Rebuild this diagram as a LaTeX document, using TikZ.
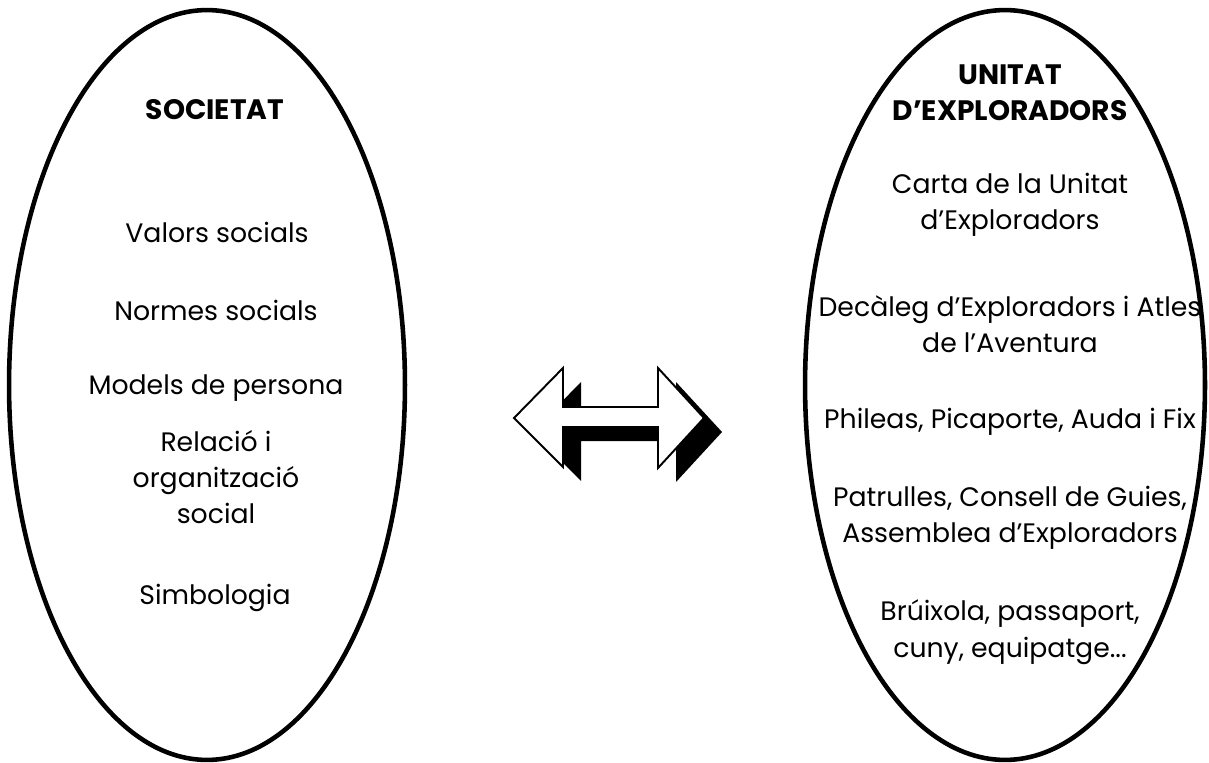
\documentclass[tikz,border=0pt]{standalone}
\usepackage{fontspec}
\setmainfont{Poppins}
\usetikzlibrary{shapes.geometric}
\usetikzlibrary{positioning}
\tikzset{
	bubble/.style={ellipse,draw=black,line width=2.6pt,inner sep=0pt},
	item/.style={align=center,font=\fontsize{15.2}{20.7}\selectfont,inner sep=0pt},
	head/.style={item,font=\fontsize{16}{20.7}\selectfont\bfseries},
}
\begin{document}
\begin{tikzpicture}[x=0.02cm,y=-0.02cm]
	\useasboundingbox (0,0) rectangle (1209,763);
	\begin{scope}
		% the two groups
		\node[bubble,minimum width=7.92cm,minimum height=15cm] (soc) at (207,385) {};
		\node[bubble,minimum width=8cm,minimum height=15cm] (unit) at (1005,385) {};
		
		\node[head] (soctitle) at (215,110) {SOCIETAT};
		\node[item] (valors) at (217,232) {Valors socials};
		\node[item] (normes) at (216,310) {Normes socials};
		\node[item] (models) at (216,388) {Models de persona};
		\node[item] (relacio) at (216,477) {Relació i\\organització\\social};
		\node[item] (simbol) at (215,598) {Simbologia};
		
		\node[head] (unittitle) at (1010,93) {UNITAT\\D’EXPLORADORS};
		\node[item] (carta) at (1010,205) {Carta de la Unitat\\d’Exploradors};
		\node[item] (decaleg) at (1010,324) {Decàleg d’Exploradors i Atles\\de l’Aventura};
		\node[item] (phileas) at (1010,422) {Phileas, Picaporte, Auda i Fix};
		\node[item] (patrulles) at (1010,518) {Patrulles, Consell de Guies,\\Assemblea d’Exploradors};
		\node[item] (bruixola) at (1010,632) {Brúixola, passaport,\\cuny, equipatge...};
		
		% double arrow with its shadow
		\fill[black,shift={(18,14)}] (514,418) -- (563,368) -- (563,407) -- (658,407) -- (658,368)
			-- (704,418) -- (658,468) -- (658,427) -- (563,427) -- (563,467) -- cycle;
		\draw[fill=white,line width=1.1pt,line join=miter] (514,418) -- (563,368) -- (563,407) -- (658,407) -- (658,368)
			-- (704,418) -- (658,468) -- (658,427) -- (563,427) -- (563,467) -- cycle;
	\end{scope}
\end{tikzpicture}
\end{document}
